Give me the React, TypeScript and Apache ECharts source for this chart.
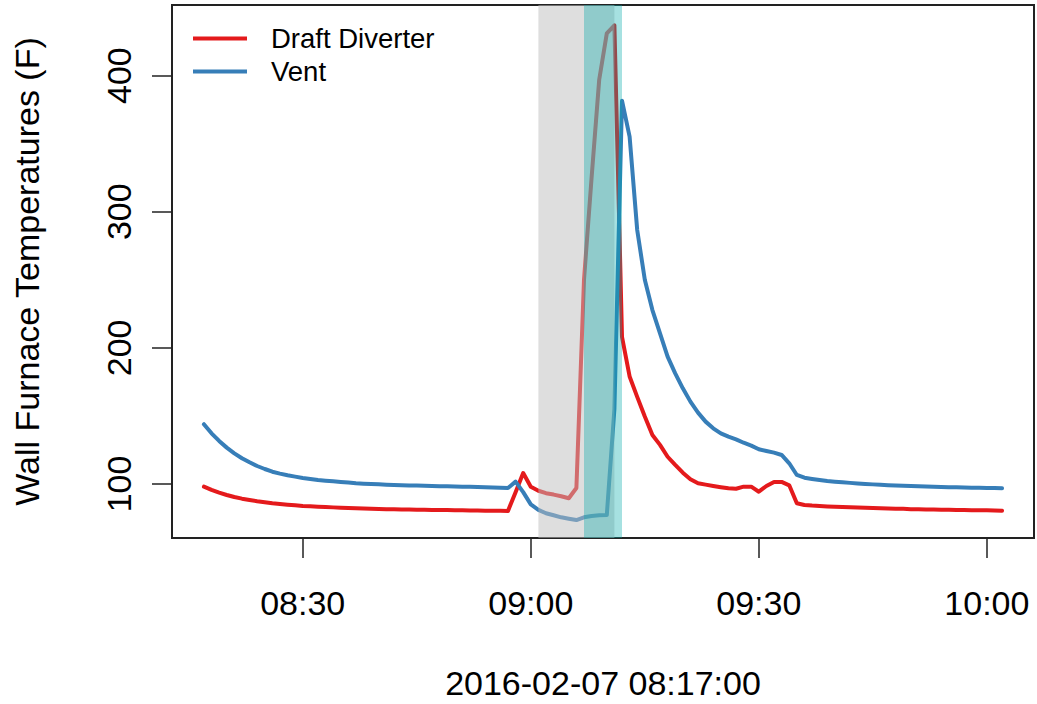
import React, { useEffect, useRef } from "react";
import * as echarts from "echarts";

// Readings every minute, starting at 08:17 (2016-02-07)
const START_TIME = "08:17";

// Draft Diverter temperature (F), one value per minute from 08:17 to 10:02
const draftDiverter = [
  98.0, 95.6, 93.6, 91.9, 90.4, 89.2, 88.2, 87.3, 86.6, 85.8, // 08:17-08:26
  85.3, 84.8, 84.3, 83.8, 83.6, 83.3, 83.0, 82.8, 82.6, 82.4, // 08:27-08:36
  82.2, 82.0, 81.8, 81.6, 81.5, 81.4, 81.3, 81.2, 81.1, 81.0, // 08:37-08:46
  80.9, 80.8, 80.8, 80.7, 80.6, 80.5, 80.5, 80.4, 80.3, 80.3, // 08:47-08:56
  80.2, 94.0, 108.0, 98.0, 95.0, 93.2, 92.2, 91.0, 89.5, 97.0, // 08:57-09:06
  250.0, 325.0, 397.0, 431.0, 437.0, 208.0, 179.0, 164.0, 149.5, 136.0, // 09:07-09:16
  128.7, 120.0, 114.0, 108.3, 103.4, 100.5, 99.5, 98.5, 97.6, 96.8, // 09:17-09:26
  96.5, 98.0, 98.0, 94.3, 98.5, 101.5, 101.5, 99.0, 85.8, 84.6, // 09:27-09:36
  84.1, 83.8, 83.5, 83.3, 83.1, 82.9, 82.7, 82.5, 82.3, 82.1, // 09:37-09:46
  82.0, 81.8, 81.7, 81.5, 81.4, 81.3, 81.2, 81.1, 81.0, 80.9, // 09:47-09:56
  80.8, 80.7, 80.6, 80.6, 80.5, 80.4, // 09:57-10:02
];

// Vent temperature (F), one value per minute from 08:17 to 10:02
const vent = [
  143.9, 137.2, 131.6, 126.7, 122.5, 118.9, 115.9, 113.2, 111.0, 109.0, // 08:17-08:26
  107.6, 106.4, 105.4, 104.4, 103.7, 102.9, 102.4, 102.0, 101.5, 101.0, // 08:27-08:36
  100.5, 100.2, 100.0, 99.8, 99.5, 99.3, 99.1, 98.9, 98.8, 98.6, // 08:37-08:46
  98.5, 98.4, 98.3, 98.2, 98.0, 97.9, 97.8, 97.6, 97.4, 97.2, // 08:47-08:56
  97.0, 101.7, 94.0, 85.0, 81.0, 78.5, 77.0, 75.5, 74.5, 73.5, // 08:57-09:06
  75.5, 76.5, 77.0, 77.2, 155.0, 381.6, 355.2, 286.6, 250.0, 227.8, // 09:07-09:16
  210.7, 193.5, 181.3, 170.3, 160.5, 152.4, 145.8, 140.9, 137.2, 134.8, // 09:17-09:26
  132.8, 130.3, 128.2, 125.5, 124.2, 123.0, 121.3, 115.2, 106.6, 104.6, // 09:27-09:36
  103.7, 102.9, 102.2, 101.7, 101.2, 100.8, 100.4, 100.0, 99.7, 99.4, // 09:37-09:46
  99.1, 98.9, 98.7, 98.5, 98.3, 98.1, 97.9, 97.8, 97.6, 97.5, // 09:47-09:56
  97.4, 97.3, 97.2, 97.1, 97.0, 96.9, // 09:57-10:02
];

const xTickLabels = ["08:30", "09:00", "09:30", "10:00"];
const yTicks = [100, 200, 300, 400];

// Shaded periods
const bandStarts = ["09:01", "09:07"];
const bandEnds = ["09:11", "09:12"];
const bandColors = ["rgba(190,190,190,0.5)", "rgba(0,170,170,0.35)"];

const seriesNames = ["Draft Diverter", "Vent"];
const seriesColors = ["#e41a1c", "#377eb8"];

const xTitle = "2016-02-07 08:17:00";
const yTitle = "Wall Furnace Temperatures (F)";

const toMin = (s: string) => {
  const [h, m] = s.split(":").map(Number);
  return h * 60 + m;
};
const fmt = (v: number) => {
  const h = Math.floor(v / 60);
  const m = Math.round(v - h * 60);
  return String(h).padStart(2, "0") + ":" + String(m).padStart(2, "0");
};

const FONT = "'Liberation Sans', Arial, Helvetica, sans-serif";

export default function App() {
  const ref = useRef<HTMLDivElement>(null);
  useEffect(() => {
    if (!ref.current) return;
    const chart = echarts.init(ref.current, undefined, { renderer: "svg" });
    const start = toMin(START_TIME);
    const times = draftDiverter.map((_, i) => start + i);
    const first = times[0];
    const last = times[times.length - 1];
    const pad = (last - first) * 0.04;
    const bands = bandStarts.map((s, i) => [toMin(s), toMin(bandEnds[i]), i]);

    chart.setOption({
      animation: false,
      backgroundColor: "#fff",
      textStyle: { fontFamily: FONT },
      grid: {
        left: 172,
        top: 5,
        right: 3,
        bottom: 166,
        show: true,
        borderColor: "#222",
        borderWidth: 2,
        backgroundColor: "transparent",
        containLabel: false,
        outerBoundsMode: "none",
      },
      legend: {
        data: seriesNames,
        orient: "vertical",
        left: 193,
        top: 22,
        padding: 0,
        itemGap: 0,
        itemWidth: 54,
        itemHeight: 4,
        icon: "rect",
        textStyle: {
          fontFamily: FONT,
          fontSize: 27.5,
          color: "#000",
          lineHeight: 33,
          padding: [0, 0, 0, 19],
        },
      },
      xAxis: {
        type: "value",
        min: first - pad,
        max: last + pad,
        axisLine: { show: false },
        splitLine: { show: false },
        axisTick: {
          show: true,
          length: 20,
          customValues: xTickLabels.map(toMin),
          lineStyle: { color: "#222", width: 1.5 },
        },
        axisLabel: {
          customValues: xTickLabels.map(toMin),
          formatter: (v: number) => fmt(v),
          fontFamily: FONT,
          fontSize: 34,
          color: "#000",
          margin: 48,
        },
        name: xTitle,
        nameLocation: "middle",
        nameGap: 128,
        nameTextStyle: { fontFamily: FONT, fontSize: 34, color: "#000" },
      },
      yAxis: {
        type: "value",
        min: 60.3,
        max: 451.9,
        axisLine: { show: false },
        splitLine: { show: false },
        axisTick: {
          show: true,
          length: 20,
          customValues: yTicks,
          lineStyle: { color: "#222", width: 1.5 },
        },
        axisLabel: {
          customValues: yTicks,
          rotate: 90,
          fontFamily: FONT,
          fontSize: 34,
          color: "#000",
          margin: 36,
        },
        name: yTitle,
        nameLocation: "middle",
        nameGap: 128,
        nameTextStyle: { fontFamily: FONT, fontSize: 34, color: "#000" },
      },
      series: [
        ...seriesNames.map((name, k) => ({
          name,
          type: "line",
          data: times.map((t, i) => [t, (k === 0 ? draftDiverter : vent)[i]]),
          showSymbol: false,
          symbol: "none",
          z: 2,
          lineStyle: { color: seriesColors[k], width: 4, cap: "round", join: "round" },
          itemStyle: { color: seriesColors[k] },
        })),
        {
          name: "bands",
          type: "custom",
          z: 5,
          silent: true,
          clip: true,
          data: bands,
          encode: { x: [0, 1] },
          renderItem: (params: any, api: any) => {
            const cs = params.coordSys;
            const x0 = api.coord([api.value(0), 100])[0];
            const x1 = api.coord([api.value(1), 100])[0];
            return {
              type: "rect",
              shape: { x: x0, y: cs.y, width: x1 - x0, height: cs.height },
              style: { fill: bandColors[api.value(2)] },
            };
          },
        },
      ],
    });
    return () => chart.dispose();
  }, []);
  return (
    <div
      ref={ref}
      style={{ position: "absolute", left: 0, top: 0, width: 1037, height: 704 }}
    />
  );
}
